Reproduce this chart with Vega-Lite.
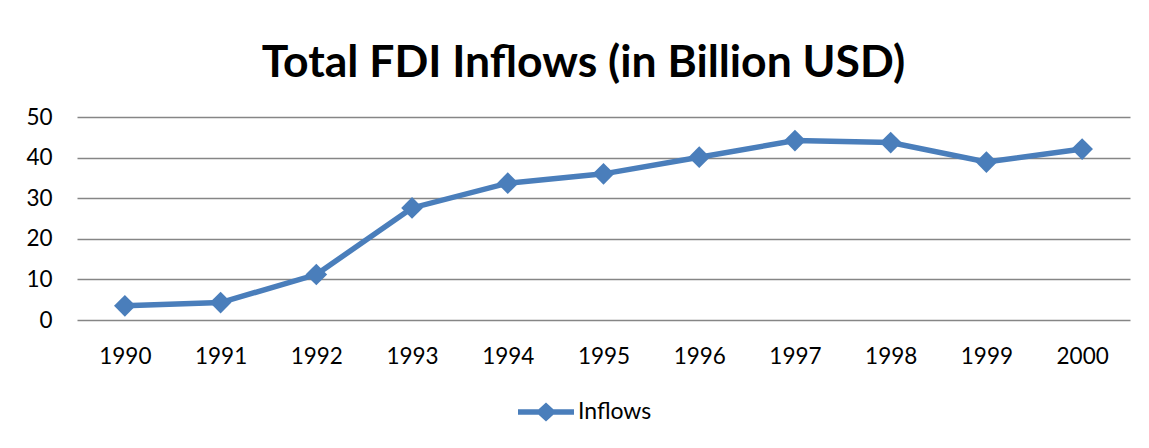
{
  "$schema": "https://vega.github.io/schema/vega-lite/v6.json",
  "autosize": "none",
  "width": 1053,
  "height": 203,
  "padding": {"left": 77, "top": 117, "right": 19, "bottom": 128},
  "background": "white",
  "title": {
    "text": "Total FDI Inflows (in Billion USD)",
    "font": "Lato",
    "fontSize": 44.5,
    "fontWeight": "bold",
    "color": "black",
    "anchor": "middle",
    "baseline": "alphabetic",
    "offset": -15,
    "dx": -20
  },
  "data": {
    "values": [
      {"year": "1990", "inflows": 3.5, "series": "Inflows"},
      {"year": "1991", "inflows": 4.3, "series": "Inflows"},
      {"year": "1992", "inflows": 11.2, "series": "Inflows"},
      {"year": "1993", "inflows": 27.6, "series": "Inflows"},
      {"year": "1994", "inflows": 33.7, "series": "Inflows"},
      {"year": "1995", "inflows": 36.0, "series": "Inflows"},
      {"year": "1996", "inflows": 40.1, "series": "Inflows"},
      {"year": "1997", "inflows": 44.2, "series": "Inflows"},
      {"year": "1998", "inflows": 43.7, "series": "Inflows"},
      {"year": "1999", "inflows": 38.9, "series": "Inflows"},
      {"year": "2000", "inflows": 42.1, "series": "Inflows"}
    ]
  },
  "encoding": {
    "x": {
      "field": "year",
      "type": "ordinal",
      "scale": {"type": "point", "padding": 0.5},
      "axis": {
        "title": null,
        "labelAngle": 0,
        "labelFont": "Lato",
        "labelFontSize": 22.5,
        "labelColor": "black",
        "labelPadding": 25,
        "ticks": false,
        "domain": false,
        "grid": false
      }
    },
    "y": {
      "field": "inflows",
      "type": "quantitative",
      "scale": {"domain": [0, 50], "nice": false},
      "axis": {
        "title": null,
        "values": [0, 10, 20, 30, 40, 50],
        "labelFont": "Lato",
        "labelFontSize": 22.5,
        "labelColor": "black",
        "labelPadding": 25,
        "ticks": false,
        "domain": false,
        "grid": true,
        "gridColor": "#868686",
        "gridWidth": 1.4,
        "gridOpacity": 1
      }
    }
  },
  "layer": [
    {
      "mark": {"type": "line", "color": "#4A7EBB", "strokeWidth": 5.5}
    },
    {
      "mark": {"type": "point", "shape": "diamond", "filled": true, "size": 470, "opacity": 1},
      "encoding": {
        "color": {
          "field": "series",
          "type": "nominal",
          "scale": {"range": ["#4A7EBB"]},
          "legend": {
            "title": null,
            "orient": "none",
            "legendX": 441,
            "legendY": 267,
            "padding": 0,
            "symbolType": "M-1,-0.095L1,-0.095L1,0.095L-1,0.095Z M-0.37,0L0,-0.34L0.37,0L0,0.34Z",
            "symbolSize": 3136,
            "symbolStrokeWidth": 0,
            "symbolOpacity": 1,
            "labelFont": "Lato",
            "labelFontSize": 23,
            "labelColor": "black",
            "labelOffset": 4
          }
        }
      }
    }
  ],
  "config": {
    "view": {"stroke": null}
  }
}
